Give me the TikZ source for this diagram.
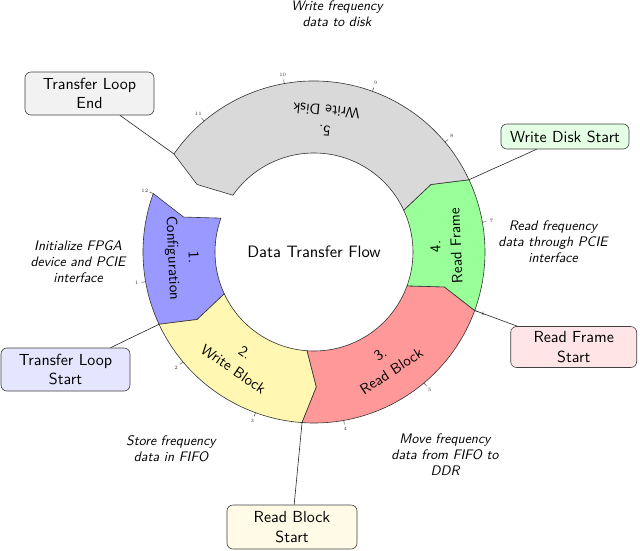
\documentclass[tikz,border=0pt]{standalone}
\usepackage{fontspec}
\setsansfont{lmsans10-regular.otf}[ItalicFont=lmsans10-oblique.otf, BoldFont=lmsans10-bold.otf]
\definecolor{segblue}{RGB}{153,153,255}
\definecolor{segyellow}{RGB}{255,247,178}
\definecolor{segred}{RGB}{255,153,153}
\definecolor{seggreen}{RGB}{153,255,153}
\definecolor{seggray}{RGB}{217,217,217}
\definecolor{boxyellow}{RGB}{255,251,230}
\newcommand{\ringsegment}[3]{%
  \path[seg, fill=#3] (#1:171) arc[start angle=#1, end angle=#2, radius=171]
    -- ({#2+5}:135) -- (#2:99) arc[start angle=#2, end angle=#1, radius=99]
    -- ({#1+5}:135) -- cycle;}
\begin{document}
\begin{tikzpicture}[x=1pt,y=1pt,
  seg/.style={draw=black!80, line width=0.6pt},
  box/.style={draw=black!75, rounded corners=6pt, line width=0.6pt,
    font=\sffamily\fontsize{16}{19.5}\selectfont, align=center,
    minimum width=129pt, inner sep=0pt},
  note/.style={font=\sffamily\itshape\fontsize{13.8}{16}\selectfont, align=center},
  seglabel/.style={font=\sffamily\fontsize{15}{20.5}\selectfont, align=center},
  conn/.style={draw=black!85, line width=0.6pt},
  tickmark/.style={line width=0.4pt, draw=black!80},
  ticklabel/.style={font=\fontsize{5}{5}\selectfont, text=black!80, inner sep=0pt}]
\useasboundingbox (-314,-298) rectangle (326,252);

% ring segments
\ringsegment{160}{205}{segblue}
\ringsegment{205}{266}{segyellow}
\ringsegment{266}{340}{segred}
\ringsegment{340}{385}{seggreen}
\ringsegment{25}{145}{seggray}

% ticks
\foreach \h in {1,...,12}{
  \pgfmathsetmacro\ang{30*\h-200}
  \draw[tickmark] (\ang:171) -- (\ang:175);
  \node[ticklabel] (t\h) at (\ang:180) {\h};
}

% connector anchors
\coordinate (e145) at (145:171);
\coordinate (e25) at (25:171);
\coordinate (e205) at (205:171);
\coordinate (e340) at (340:171);
\coordinate (e266) at (266:171);

% centre
\node[font=\sffamily\fontsize{16.5}{19}\selectfont] (title) at (0,0) {Data Transfer Flow};

% segment labels
\node[seglabel, rotate=272.5] (l1) at (182.5:132) {1.\\Configuration};
\node[seglabel, rotate=325.5] (l2) at (235.5:132) {2.\\Write Block};
\node[seglabel, rotate=33] (l3) at (303:132) {3.\\Read Block};
\node[seglabel, rotate=92.5] (l4) at (2.5:132) {4.\\Read Frame};
\node[seglabel, rotate=175] (l5) at (85:132) {5.\\Write Disk};

% boxes
\node[box, fill=gray!10, minimum height=43pt] (tle) at (-224.5,158.5) {Transfer Loop\\End};
\node[box, fill=green!10, minimum height=25pt, minimum width=128pt] (wds) at (251,115.5) {Write Disk Start};
\node[box, fill=blue!10, minimum height=43pt] (tls) at (-248.5,-117.5) {Transfer Loop\\Start};
\node[box, fill=red!10, minimum height=41pt, minimum width=126pt] (rfs) at (259.7,-95) {Read Frame\\Start};
\node[box, fill=boxyellow, minimum height=44pt, minimum width=130pt] (rbs) at (-22,-275) {Read Block\\Start};

% connectors
\draw[conn] (tle) -- (e145);
\draw[conn] (wds) -- (e25);
\draw[conn] (tls) -- (e205);
\draw[conn] (rfs) -- (e340);
\draw[conn] (rbs) -- (e266);

% notes
\node[note] (n5) at (23,238) {Write frequency\\data to disk};
\node[note] (n1) at (-236,-10) {Initialize FPGA\\device and PCIE\\interface};
\node[note] (n4) at (239,10) {Read frequency\\data through PCIE\\interface};
\node[note] (n2) at (-143,-197) {Store frequency\\data in FIFO};
\node[note] (n3) at (131,-203) {Move frequency\\data from FIFO to\\DDR};
\end{tikzpicture}
\end{document}
